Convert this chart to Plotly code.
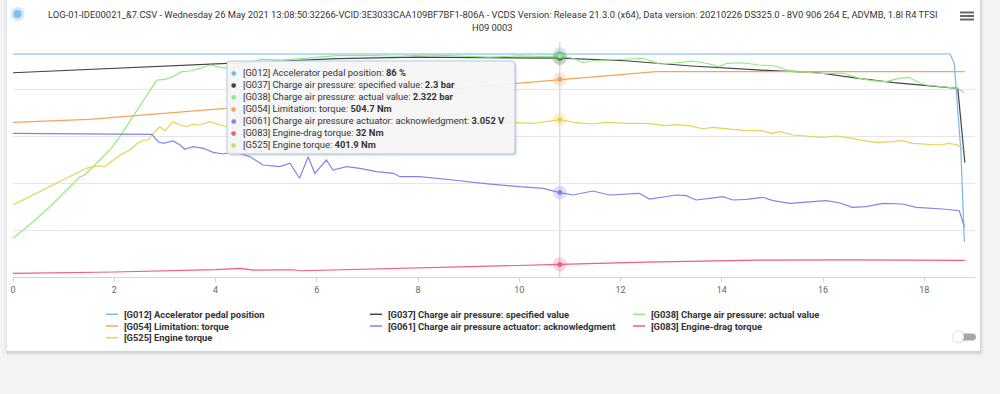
import plotly.graph_objects as go

# ---------------- data ----------------
series_names = [
    "[G012] Accelerator pedal position",
    "[G037] Charge air pressure: specified value",
    "[G038] Charge air pressure: actual value",
    "[G054] Limitation: torque",
    "[G061] Charge air pressure actuator: acknowledgment",
    "[G083] Engine-drag torque",
    "[G525] Engine torque",
]
series_colors = ["#7cb5ec", "#434348", "#90ed7d", "#f7a35c", "#8085e9", "#f15c80", "#e4d354"]
series_axes = ["y", "y3", "y3", "y4", "y5", "y4", "y4"]

x_ticks = [0, 2, 4, 6, 8, 10, 12, 14, 16, 18]

# G012 accelerator pedal position (%)
g012_t = [0, 18.51, 18.59, 18.66, 18.72, 18.79]
g012_v = [86, 86, 82.4, 65.6, 49.0, 13.6]

# G037 charge air pressure specified (bar)
g037_t = [0, 1.9, 3.7, 4.2, 6.4, 8.0, 10.0, 10.8, 12.1, 13.4, 14.7, 15.9, 16.7, 17.4, 18.66, 18.78, 18.8]
g037_v = [2.147, 2.193, 2.231, 2.246, 2.295, 2.31, 2.305, 2.30, 2.273, 2.218, 2.176, 2.147, 2.088, 2.042, 1.983, 1.335, 1.201]

# G038 charge air pressure actual (bar)
g038_t = [0, 0.40, 0.73, 1.06, 1.32, 1.42, 1.65, 1.91, 2.11, 2.37,
          2.64, 2.84, 3.0, 3.16, 3.33, 3.49, 3.69, 3.89, 4.09, 4.28,
          4.6, 4.91, 5.3, 5.8, 6.4, 7.0, 7.6, 8.2, 8.8, 9.4,
          10.0, 10.4, 10.8, 11.06, 11.26, 11.45, 11.78, 12.11, 12.44, 12.64,
          12.77, 13.10, 13.43, 13.76, 13.95, 14.09, 14.41, 14.74, 15.07, 15.27,
          15.53, 15.93, 16.39, 16.72, 16.98, 17.24, 17.50, 17.70, 17.90, 18.03,
          18.36, 18.66, 18.79]
g038_v = [0.407, 0.581, 0.739, 0.914, 1.054, 1.072, 1.195, 1.335, 1.475, 1.685,
          1.895, 2.070, 2.078, 2.105, 2.158, 2.165, 2.193, 2.228, 2.204, 2.193,
          2.24, 2.29, 2.28, 2.30, 2.326, 2.33, 2.32, 2.335, 2.32, 2.31,
          2.325, 2.318, 2.322, 2.299, 2.252, 2.273, 2.281, 2.288, 2.299, 2.263,
          2.239, 2.252, 2.270, 2.239, 2.210, 2.246, 2.252, 2.228, 2.218, 2.176,
          2.158, 2.141, 2.141, 2.088, 2.063, 2.053, 2.088, 2.099, 2.042, 2.018,
          2.000, 1.983, 1.937]

# G054 limitation torque (Nm)
g054_t = [0, 1.5, 4.2, 10.8, 12.7, 18.8]
g054_v = [395, 402.6, 430.7, 504.7, 524.5, 524.5]

# G061 charge air pressure actuator acknowledgment (V)
g061_t = [0, 2.74, 2.87, 2.97, 3.16, 3.30, 3.39, 3.56, 3.76, 3.95,
          4.15, 4.35, 4.68, 4.94, 5.27, 5.47, 5.66, 5.83, 5.96, 6.19,
          6.32, 6.59, 6.85, 7.18, 7.51, 7.64, 8.03, 8.29, 8.69, 9.28,
          9.61, 10.01, 10.47, 10.80, 11.06, 11.45, 11.78, 12.11, 12.37, 12.57,
          12.77, 13.10, 13.30, 13.49, 13.76, 14.02, 14.22, 14.48, 14.81, 15.01,
          15.34, 16.06, 16.32, 16.58, 16.85, 17.18, 17.57, 17.84, 18.36, 18.69,
          18.79]
g061_v = [5.198, 5.161, 4.894, 4.836, 4.919, 4.774, 4.619, 4.713, 4.655, 4.510,
          4.449, 4.532, 4.351, 4.051, 3.990, 4.113, 3.570, 4.351, 3.751, 4.232,
          3.870, 3.990, 3.932, 3.809, 3.751, 3.628, 3.628, 3.570, 3.508, 3.389,
          3.328, 3.266, 3.208, 3.052, 2.966, 3.111, 2.966, 3.002, 3.027, 2.821,
          2.883, 2.966, 2.941, 2.785, 2.847, 2.904, 2.785, 2.810, 2.883, 2.760,
          2.666, 2.760, 2.687, 2.521, 2.543, 2.666, 2.640, 2.521, 2.460, 2.398,
          1.819]

# G083 engine-drag torque (Nm)
g083_t = [0, 2.0, 4.0, 4.5, 4.75, 5.5, 5.7, 6.4, 8.5, 10.8, 12.5, 14.7, 16.5, 18.8]
g083_v = [9.4, 12.8, 19.0, 22.0, 17.5, 18.5, 16.0, 18.0, 25.0, 32.0, 38.0, 43.0, 43.5, 42.5]

# G525 engine torque (Nm)
g525_t = [0, 0.40, 0.73, 1.06, 1.26, 1.45, 1.58, 1.72, 1.82, 1.98,
          2.18, 2.31, 2.44, 2.57, 2.67, 2.77, 2.90, 3.0, 3.16, 3.30,
          3.43, 3.56, 3.69, 3.89, 4.09, 4.28, 4.6, 5.0, 5.5, 6.0,
          6.5, 7.0, 7.5, 8.0, 8.5, 9.0, 9.5, 10.0, 10.26, 10.8,
          11.12, 11.45, 11.72, 12.11, 12.51, 12.90, 13.10, 13.36, 13.62, 13.82,
          14.22, 14.48, 14.78, 15.0, 15.14, 15.40, 15.66, 15.99, 16.26, 16.58,
          16.78, 17.05, 17.37, 17.57, 17.77, 18.03, 18.29, 18.49, 18.66, 18.77]
g525_v = [183.8, 209.3, 230.5, 252.0, 264.7, 277.5, 281.6, 283.4, 281.6, 298.7,
          315.8, 324.2, 339.5, 349.8, 349.8, 366.9, 383.7, 373.5, 396.5, 388.1,
          383.7, 390.6, 388.1, 396.5, 388.1, 382.2, 386, 392, 388, 395,
          390, 396, 392, 398, 394, 399, 396, 394, 392, 401.9,
          393.9, 390.6, 395.0, 392.4, 392.4, 386.3, 388.8, 386.3, 378.6, 382.2,
          377.1, 373.5, 373.5, 366.9, 371.0, 362.5, 360.0, 356.7, 360.0, 354.1,
          348.0, 343.9, 345.4, 348.0, 341.3, 339.5, 337.0, 341.3, 337.0, 324.2]

series_t = [g012_t, g037_t, g038_t, g054_t, g061_t, g083_t, g525_t]
series_v = [g012_v, g037_v, g038_v, g054_v, g061_v, g083_v, g525_v]

# tooltip (hover point)
hover_t = 10.8
hover_values = [86, 2.3, 2.322, 504.7, 3.052, 32, 401.9]
hover_units = ["%", "bar", "bar", "Nm", "V", "Nm", "Nm"]

# value axes (pedal axis carries the 5 grid bands)
axis_ranges = {"y": [0, 90.6], "y3": [0, 2.47], "y4": [0, 600], "y5": [0, 8.5]}
grid_bands = 5

title_line1 = ("LOG-01-IDE00021_&7.CSV - Wednesday 26 May 2021 13:08:50:32266-VCID:3E3033CAA109BF7BF1-806A - "
               "VCDS Version: Release 21.3.0 (x64), Data version: 20210226 DS325.0 - 8V0 906 264 E, ADVMB, 1.8l R4 TFSI")
title_line2 = "H09 0003"

# ---------------- layout geometry (pixels) ----------------
W_PX, H_PX = 1000, 394
L, R, T, B = 13, 975, 42, 277
PW, PH = R - L, B - T
FONT = "Roboto, 'Open Sans', sans-serif"
FS = 9.4
PAGE_BG = "#f3f3f3"


def px(x):
    return (x - L) / PW


def py(y):
    return (B - y) / PH


def rrect(x0, y0, x1, y1, r):
    p = lambda x, y: f"{px(x):.5f},{py(y):.5f}"
    return (f"M {p(x0 + r, y0)} L {p(x1 - r, y0)} Q {p(x1, y0)} {p(x1, y0 + r)} "
            f"L {p(x1, y1 - r)} Q {p(x1, y1)} {p(x1 - r, y1)} "
            f"L {p(x0 + r, y1)} Q {p(x0, y1)} {p(x0, y1 - r)} "
            f"L {p(x0, y0 + r)} Q {p(x0, y0)} {p(x0 + r, y0)} Z")


def prect(x0, y0, x1, y1, fill, layer="below"):
    return dict(type="rect", xref="paper", yref="paper", layer=layer,
                x0=px(x0), x1=px(x1), y0=py(y1), y1=py(y0),
                fillcolor=fill, line=dict(width=0))


fig = go.Figure()

for name, t, v, c, ax in zip(series_names, series_t, series_v, series_colors, series_axes):
    fig.add_trace(go.Scatter(x=t, y=v, name=name, mode="lines", yaxis=ax,
                             line=dict(color=c, width=1.2), hoverinfo="skip"))

# hover highlight markers (halo + dot)
for val, c, ax in zip(hover_values, series_colors, series_axes):
    fig.add_trace(go.Scatter(x=[hover_t], y=[val], mode="markers", yaxis=ax, hoverinfo="skip",
                             marker=dict(size=14, color=c, opacity=0.25, line=dict(width=0))))
    fig.add_trace(go.Scatter(x=[hover_t], y=[val], mode="markers", yaxis=ax, hoverinfo="skip",
                             marker=dict(size=5, color=c, line=dict(width=0))))

shapes = []
# page background around the white card (card = paper area)
CL, CR, CB = 7, 980, 351
shapes.append(prect(0, 0, CL, H_PX, PAGE_BG))
shapes.append(prect(CR, 0, W_PX, H_PX, PAGE_BG))
shapes.append(prect(0, CB, W_PX, H_PX, PAGE_BG))
for i, a in [(4, 0.015), (3, 0.025), (2, 0.035), (1, 0.05)]:
    shapes.append(prect(CL - i, 0, CL, CB + i, f"rgba(0,0,0,{a / 2})"))
    shapes.append(prect(CR, 0, CR + i, CB + i, f"rgba(0,0,0,{a})"))
    shapes.append(prect(CL, CB, CR, CB + i + 1, f"rgba(0,0,0,{a})"))

# crosshair
shapes.append(dict(type="line", xref="x", yref="paper", x0=hover_t, x1=hover_t, y0=0, y1=1,
                   layer="below", line=dict(color="#cccccc", width=1)))

# tooltip box
tb = (227, 61, 515, 154)
for off, a in [(3, 0.03), (2, 0.05), (1, 0.07)]:
    shapes.append(dict(type="path", xref="paper", yref="paper", layer="above",
                       path=rrect(tb[0] + off, tb[1] + off, tb[2] + off, tb[3] + off, 3),
                       fillcolor=f"rgba(0,0,0,{a})", line=dict(width=0)))
shapes.append(dict(type="path", xref="paper", yref="paper", layer="above",
                   path=rrect(*tb, 3), fillcolor="rgba(247,247,247,0.93)",
                   line=dict(color="#a9c9ea", width=1)))

# hamburger menu icon
for yy in (12.5, 16, 19.5):
    shapes.append(dict(type="line", xref="paper", yref="paper", x0=px(960), x1=px(974),
                       y0=py(yy), y1=py(yy), line=dict(color="#666666", width=2)))

# blue status dot
shapes.append(dict(type="circle", xref="paper", yref="paper", x0=px(10.5), x1=px(24.5),
                   y0=py(21), y1=py(7), fillcolor="rgba(124,181,236,0.30)", line=dict(width=0)))
shapes.append(dict(type="circle", xref="paper", yref="paper", x0=px(13.5), x1=px(21.5),
                   y0=py(18), y1=py(10), fillcolor="#7fc0f4", line=dict(width=0)))

# toggle switch
shapes.append(dict(type="path", xref="paper", yref="paper",
                   path=rrect(955, 333.5, 976, 340.5, 3.5), fillcolor="#a8a8a8", line=dict(width=0)))
shapes.append(dict(type="circle", xref="paper", yref="paper", x0=px(952), x1=px(965),
                   y0=py(343.5), y1=py(330.5), fillcolor="rgba(0,0,0,0.12)", line=dict(width=0)))
shapes.append(dict(type="circle", xref="paper", yref="paper", x0=px(952.5), x1=px(964),
                   y0=py(342.5), y1=py(331), fillcolor="white", line=dict(color="#dddddd", width=0.5)))

annotations = []
for txt, yy in [(title_line1, 15), (title_line2, 28)]:
    annotations.append(dict(xref="paper", yref="paper", x=px(492.5), y=py(yy), text=txt,
                            showarrow=False, xanchor="center", yanchor="middle",
                            font=dict(family=FONT, size=FS, color="#333333")))

# custom legend
legend_cols = [106, 370, 633]
legend_rows = [314.3, 326, 337.7]
for i, (name, c) in enumerate(zip(series_names, series_colors)):
    cx = legend_cols[i % 3]
    ry = legend_rows[i // 3]
    shapes.append(dict(type="line", xref="paper", yref="paper", x0=px(cx), x1=px(cx + 12),
                       y0=py(ry), y1=py(ry), line=dict(color=c, width=1.5)))
    annotations.append(dict(xref="paper", yref="paper", x=px(cx + 16), y=py(ry), text=name,
                            showarrow=False, xanchor="left", yanchor="middle",
                            font=dict(family=FONT, size=FS, color="#333333", weight="bold")))

# tooltip text
for i, (name, val, unit, c) in enumerate(zip(series_names, hover_values, hover_units, series_colors)):
    yy = 72.3 + 12 * i
    annotations.append(dict(xref="paper", yref="paper", x=px(233), y=py(yy), text="●",
                            showarrow=False, xanchor="center", yanchor="middle",
                            font=dict(family="DejaVu Sans", size=6, color=c)))
    annotations.append(dict(xref="paper", yref="paper", x=px(240.5), y=py(yy),
                            text=f"{name}: <b>{val:g} {unit}</b>",
                            showarrow=False, xanchor="left", yanchor="middle",
                            font=dict(family=FONT, size=FS, color="#333333")))

ymain = axis_ranges["y"]
hidden = dict(overlaying="y", visible=False, fixedrange=True, showgrid=False)
fig.update_layout(
    template="none",
    width=W_PX, height=H_PX,
    margin=dict(l=L, r=W_PX - R, t=T, b=H_PX - B, pad=0),
    paper_bgcolor="white", plot_bgcolor="rgba(0,0,0,0)",
    showlegend=False, hovermode=False,
    font=dict(family=FONT),
    xaxis=dict(range=[0, 19], tickvals=x_ticks, ticks="outside", ticklen=4, tickcolor="#ccd6eb",
               showline=True, linecolor="#ccd6eb", linewidth=1, showgrid=False, zeroline=False,
               tickfont=dict(family=FONT, size=9, color="#666666"), fixedrange=True, automargin=False),
    yaxis=dict(range=[ymain[0], ymain[1] * 1.0002], tick0=0, dtick=ymain[1] / grid_bands,
               showgrid=True, gridcolor="#e6e6e6", gridwidth=1, showticklabels=False,
               zeroline=False, fixedrange=True, ticks="", showline=False, automargin=False),
    yaxis3=dict(range=axis_ranges["y3"], **hidden),
    yaxis4=dict(range=axis_ranges["y4"], **hidden),
    yaxis5=dict(range=axis_ranges["y5"], **hidden),
    shapes=shapes, annotations=annotations,
)

fig.write_html("out.html", config={"displayModeBar": False},
               post_script="document.body.style.margin='0px';")
